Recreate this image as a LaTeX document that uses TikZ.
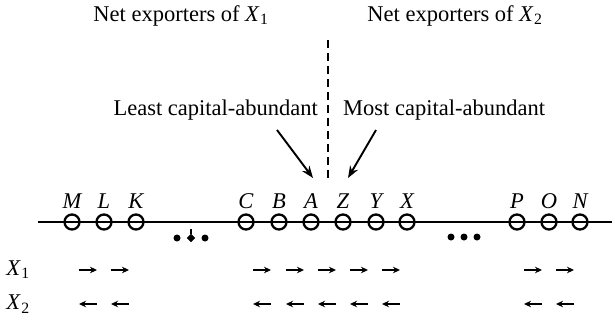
\documentclass[tikz,border=0pt]{standalone}
\usepackage{fontspec}
\setmainfont{Liberation Serif}
\usetikzlibrary{arrows.meta,shapes.geometric}
\tikzset{
  txt/.style={font=\fontsize{22.5}{26}\selectfont, inner sep=0pt},
  ctry/.style={draw, circle, line width=2.3pt, minimum size=15pt, inner sep=0pt},
  lett/.style={font=\fontsize{22.5}{26}\selectfont\itshape, inner sep=0pt, anchor=base},
  axis/.style={line width=2.2pt},
  divider/.style={line width=2pt, dash pattern=on 8pt off 5pt},
  bigarr/.style={line width=1.9pt, -{Stealth[length=12pt,width=9pt]}},
  flow/.style={line width=1.8pt, -{Stealth[length=7pt,width=6.5pt]}},
  dot/.style={circle, fill, inner sep=0pt, minimum size=7pt},
}
\newcommand{\Xs}[1]{\textit{X}\kern0.5pt\textsubscript{#1}}
\begin{document}
\begin{tikzpicture}[x=1pt,y=-1pt]
\useasboundingbox (0,0) rectangle (615,324);

% top texts
\node[txt] (t1) at (181,16) {Net exporters of \Xs{1}};
\node[txt] (t2) at (455,16) {Net exporters of \Xs{2}};
\node[txt, anchor=east] (least) at (318,110) {Least capital-abundant};
\node[txt, anchor=west] (most) at (343,110) {Most capital-abundant};

% divider
\coordinate (dtop) at (328,40);
\coordinate (dbot) at (328,178);
\draw[divider] (dtop) -- (dbot);

% axis
\coordinate (ax1) at (38,222);
\coordinate (ax2) at (612,222);

% countries
\foreach \nm/\x in {M/72,L/104,K/136,C/246,B/279,A/311,Z/343,Y/376,X/407,P/517,O/549,N/580}{
  \node[ctry] (c\nm) at (\x,222) {};
  \node[lett] (l\nm) at (\x,208) {\nm};
}
\draw[axis] (ax1) -- (ax2);

% big arrows
\coordinate (la) at (277,130);
\coordinate (lb) at (313,178);
\coordinate (ma) at (376,130);
\coordinate (mb) at (348,178);
\draw[bigarr] (la) -- (lb);
\draw[bigarr] (ma) -- (mb);

% dots
\node[dot] (d1) at (177,238) {};
\node[draw, diamond, fill, inner sep=0pt, minimum size=8pt] (d2) at (191,238) {};
\node[dot] (d3) at (205,238) {};
\coordinate (d2t) at (191,229);
\draw[line width=1.2pt] (d2t) -- (d2);
\node[dot] (e1) at (451,237) {};
\node[dot] (e2) at (464,237) {};
\node[dot] (e3) at (477,237) {};

% row labels
\node[txt] (x1) at (18,270) {\Xs{1}};
\node[txt] (x2) at (18,304) {\Xs{2}};

% flow arrows
\foreach \x [count=\i] in {88,120,262,295,327,359,391,533,565}{
  \coordinate (pa\i) at (\x-9,270);
  \coordinate (pb\i) at (\x+9,270);
  \draw[flow] (pa\i) -- (pb\i);
  \coordinate (qa\i) at (\x+9,304);
  \coordinate (qb\i) at (\x-9,304);
  \draw[flow] (qa\i) -- (qb\i);
}
\end{tikzpicture}
\end{document}
